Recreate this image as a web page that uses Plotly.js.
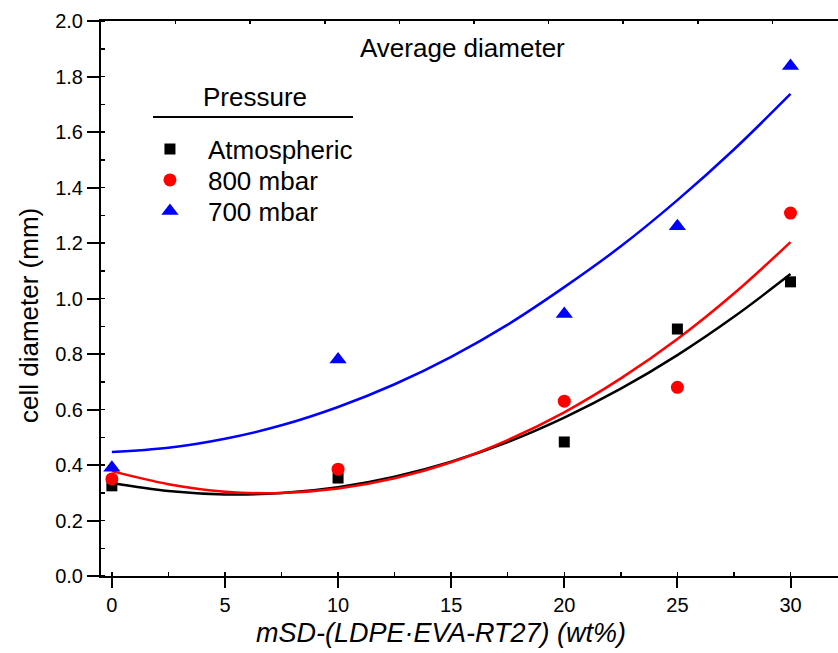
<!DOCTYPE html>
<html>
<head>
<meta charset="utf-8">
<script src="https://cdn.plot.ly/plotly-3.0.1.min.js"></script>
<style>html,body{margin:0;padding:0;background:#fff;}#chart{width:838px;height:653px;}</style>
</head>
<body>
<div id="chart"></div>
<script>
// measured points
const contentX = [0, 10, 20, 25, 30];
const atmospheric = [0.325, 0.353, 0.483, 0.89, 1.06];
const mbar800 = [0.35, 0.385, 0.63, 0.68, 1.308];
const mbar700 = [0.39, 0.78, 0.944, 1.26, 1.838];

// fitted curves
const fitX = [0, 2.5, 5, 7.5, 10, 12.5, 15, 17.5, 20, 22.5, 25, 27.5, 30];
const fitAtmospheric = [0.335, 0.306, 0.294, 0.299, 0.32, 0.358, 0.412, 0.483, 0.571, 0.675, 0.796, 0.934, 1.088];
const fit800 = [0.378, 0.331, 0.304, 0.299, 0.315, 0.352, 0.410, 0.490, 0.59, 0.712, 0.854, 1.018, 1.203];
const fit700 = [0.447, 0.462, 0.4945, 0.543, 0.609, 0.691, 0.79, 0.906, 1.041, 1.188, 1.3545, 1.537, 1.737];

const seriesNames = ['Atmospheric', '800 mbar', '700 mbar'];
const xTicks = [0, 5, 10, 15, 20, 25, 30];
const yTicks = [0, 0.2, 0.4, 0.6, 0.8, 1.0, 1.2, 1.4, 1.6, 1.8, 2.0];
const xTitle = 'mSD-(LDPE·EVA-RT27) (wt%)';
const yTitle = 'cell diameter (mm)';

const FONT = 'Liberation Sans, Arial, sans-serif';

// pixel helpers for placing text in paper coordinates
const PL = 101, PW = 737, PB = 576, PH = 555;
const px = v => (v - PL) / PW;
const py = v => (PB - v) / PH;

const traces = [
  {x: fitX, y: fitAtmospheric, mode: 'lines', line: {color: '#000000', width: 2.5, shape: 'spline'}, showlegend: false, hoverinfo: 'skip'},
  {x: fitX, y: fit800, mode: 'lines', line: {color: '#ff0000', width: 2.5, shape: 'spline'}, showlegend: false, hoverinfo: 'skip'},
  {x: fitX, y: fit700, mode: 'lines', line: {color: '#0000ff', width: 2.5, shape: 'spline'}, showlegend: false, hoverinfo: 'skip'},
  {x: contentX, y: atmospheric, mode: 'markers', name: seriesNames[0], legend: 'legend', marker: {symbol: 'square', size: 11, color: '#000000'}},
  {x: contentX, y: mbar800, mode: 'markers', name: seriesNames[1], legend: 'legend2', marker: {symbol: 'circle', size: 13, color: '#ff0000'}},
  {x: contentX, y: mbar700, mode: 'markers', name: seriesNames[2], legend: 'legend3', marker: {symbol: 'triangle-up', size: 15, color: '#0000ff'}},
  {x: [0], y: [0], xaxis: 'x2', mode: 'markers', marker: {opacity: 0}, showlegend: false, hoverinfo: 'skip'}
];

const legendBase = {x: 0.042, xanchor: 'left', yanchor: 'middle', bgcolor: 'rgba(0,0,0,0)',
  font: {family: FONT, size: 26, color: '#000'}, itemwidth: 66};

const layout = {
  width: 838, height: 653,
  margin: {l: 101, r: 0, t: 21, b: 77},
  paper_bgcolor: '#ffffff', plot_bgcolor: '#ffffff',
  font: {family: FONT, size: 20, color: '#000'},
  showlegend: true,
  legend: Object.assign({}, legendBase, {y: py(149)}),
  legend2: Object.assign({}, legendBase, {y: py(180)}),
  legend3: Object.assign({}, legendBase, {y: py(211)}),
  xaxis: {
    range: [-0.48, 32.1], tickvals: xTicks, ticktext: xTicks.map(String),
    ticks: 'outside', ticklen: 10, tickwidth: 2, tickcolor: '#000',
    showline: true, linewidth: 2, linecolor: '#000', mirror: true,
    showgrid: false, zeroline: false,
    minor: {ticks: 'inside', ticklen: 4, tickwidth: 1.5, dtick: 2.5, tick0: 0, tickcolor: '#000', showgrid: false},
    tickfont: {family: FONT, size: 20}
  },
  xaxis2: {
    overlaying: 'x', side: 'top', range: [0, 9.88], dtick: 1, tick0: 0,
    ticks: 'inside', ticklen: 3, tickwidth: 1.5, tickcolor: '#000',
    showticklabels: false, showgrid: false, zeroline: false, showline: false
  },
  yaxis: {
    range: [0, 2], tickvals: yTicks, ticktext: yTicks.map(v => v.toFixed(1)),
    ticks: 'outside', ticklen: 12, tickwidth: 2, tickcolor: '#000',
    showline: true, linewidth: 2, linecolor: '#000', mirror: false,
    showgrid: false, zeroline: false,
    minor: {ticks: 'inside', ticklen: 4, tickwidth: 1.5, dtick: 0.1, tick0: 0, tickcolor: '#000', showgrid: false},
    tickfont: {family: FONT, size: 20}
  },
  annotations: [
    {text: 'Average diameter', xref: 'paper', yref: 'paper', x: px(462), y: py(48),
     showarrow: false, xanchor: 'center', yanchor: 'middle', font: {family: FONT, size: 26}},
    {text: 'Pressure', xref: 'paper', yref: 'paper', x: px(255), y: py(97),
     showarrow: false, xanchor: 'center', yanchor: 'middle', font: {family: FONT, size: 26}},
    {text: xTitle, xref: 'paper', yref: 'paper', x: px(441), y: py(633),
     showarrow: false, xanchor: 'center', yanchor: 'middle', font: {family: FONT, size: 27, style: 'italic'}},
    {text: yTitle, xref: 'paper', yref: 'paper', x: px(29), y: py(316), textangle: -90,
     showarrow: false, xanchor: 'center', yanchor: 'middle', font: {family: FONT, size: 26}}
  ],
  shapes: [
    {type: 'line', xref: 'paper', yref: 'paper', x0: px(153), x1: px(353),
     y0: py(117), y1: py(117), line: {color: '#000', width: 2}}
  ]
};

Plotly.newPlot('chart', traces, layout, {displayModeBar: false, staticPlot: true});
</script>
</body>
</html>
